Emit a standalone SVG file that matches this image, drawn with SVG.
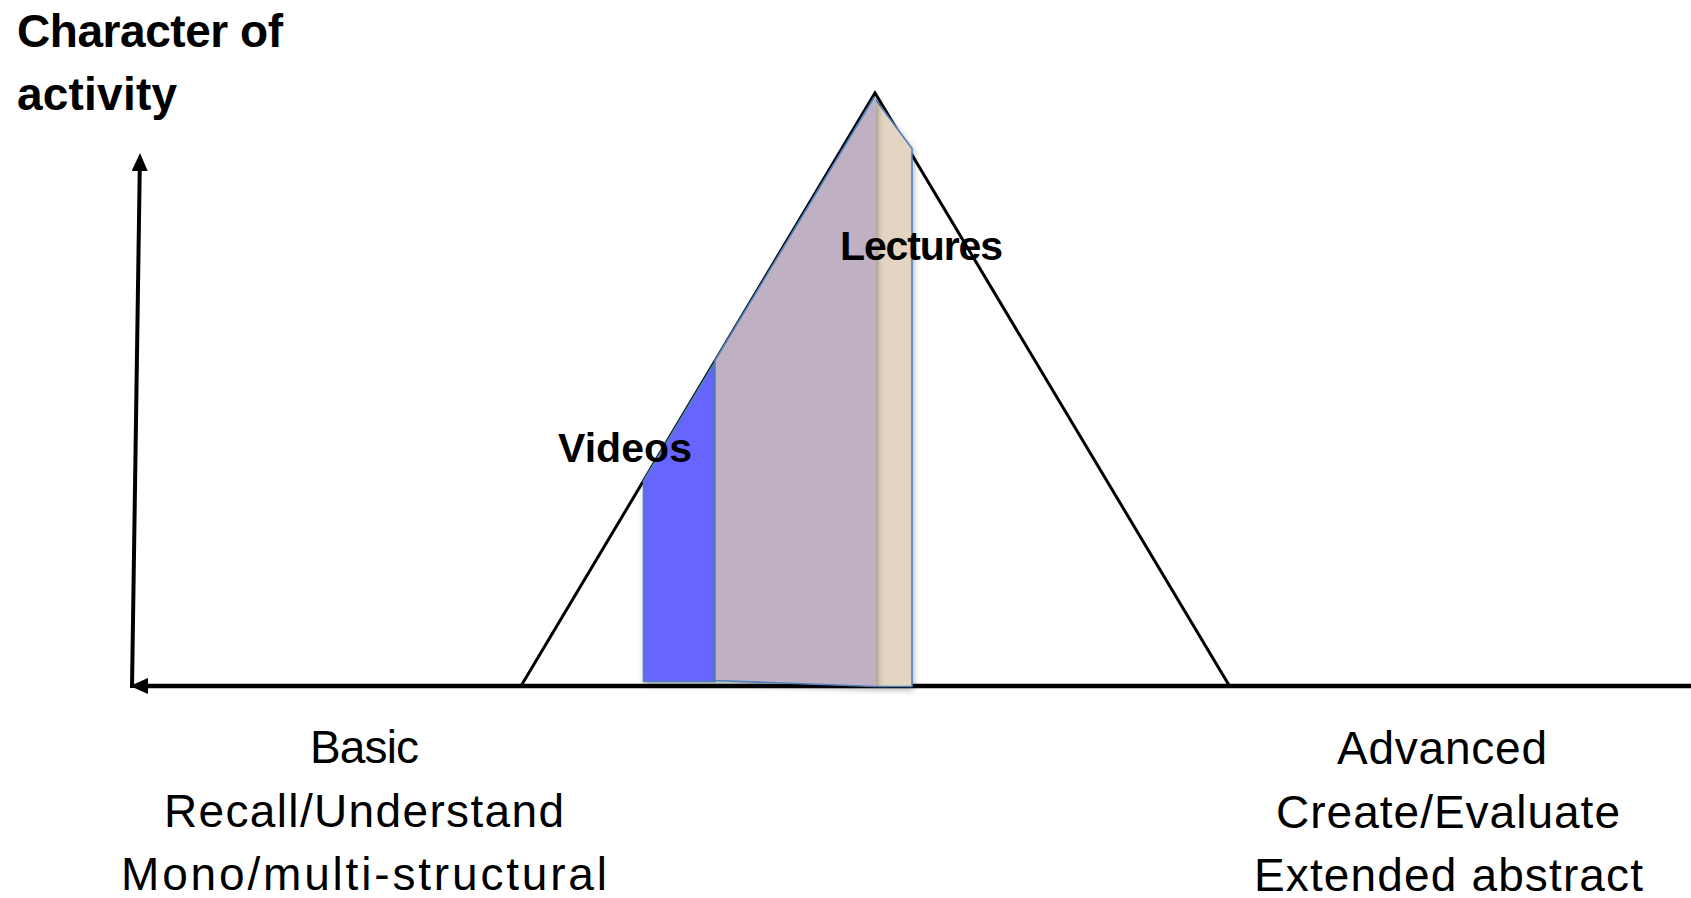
<svg xmlns="http://www.w3.org/2000/svg" width="1691" height="898" viewBox="0 0 1691 898">
  <style>
    .bold { font-family: "Liberation Sans", Arial, sans-serif; font-weight: bold; fill: #000; }
    .reg { font-family: "Liberation Sans", Arial, sans-serif; font-weight: normal; fill: #000; font-size: 46px; }
    .axis { stroke: #000; fill: none; }
    .edge { fill: none; stroke: #4F81BD; stroke-width: 1.6; stroke-linejoin: round; }
  </style>
  <defs>
    <marker id="ah" viewBox="0 0 18 16" refX="8" refY="8" markerWidth="18" markerHeight="16" markerUnits="userSpaceOnUse" orient="auto">
      <path d="M0,0 L18,8 L0,16 z" fill="#000"/>
    </marker>
    <filter id="shadow" x="-20%" y="-10%" width="140%" height="130%">
      <feDropShadow dx="1.5" dy="3" stdDeviation="3" flood-color="#000" flood-opacity="0.35"/>
    </filter>
  </defs>
  <rect width="1691" height="898" fill="#fff"/>

  <g id="title">
    <text class="bold" x="17" y="47" font-size="46" textLength="266">Character of</text>
    <text class="bold" x="17" y="110" font-size="46" textLength="160">activity</text>
  </g>

  <g id="triangle">
    <polygon points="521,686 875,93 1229.5,686" fill="none" stroke="#000" stroke-width="3" stroke-linejoin="miter"/>
  </g>

  <g id="connectors">
    <line class="axis" x1="1691" y1="686" x2="140" y2="686" stroke-width="4.5" marker-end="url(#ah)"/>
    <line class="axis" x1="132" y1="688" x2="139.85" y2="163" stroke-width="4" marker-end="url(#ah)"/>
  </g>

  <g id="videos">
    <polygon points="643.5,481 715.5,361 715.5,681.5 643.5,681.5" fill="#6666FF" filter="url(#shadow)"/>
    <polyline class="edge" points="715.5,361 643.5,481 643.5,681.5 715.5,681.5"/>
  </g>

  <g id="lectures-tip">
    <polygon points="874,97.5 912,148.5 912,686.5 876,686.5 876,97.5" fill="#E3D5C1" filter="url(#shadow)"/>
    <polyline class="edge" points="874,97.5 912,148.5 912,686.5 876,686.5"/>
  </g>

  <g id="lectures">
    <polygon points="715,360.5 874,97.5 876,97.5 876,686.5 715,680.5" fill="#BFB0C4" filter="url(#shadow)"/>
    <polyline class="edge" points="876,686.5 715,680.5 715,360.5 874,97.5"/>
  </g>

  <g id="labels">
    <text class="bold" x="840" y="260" font-size="41" textLength="163">Lectures</text>
    <text class="bold" x="558" y="462" font-size="41" textLength="134">Videos</text>
  </g>

  <g id="basic-label">
    <text class="reg" x="310" y="763" textLength="109">Basic</text>
    <text class="reg" x="164" y="827" textLength="400">Recall/Understand</text>
    <text class="reg" x="121" y="890" textLength="486">Mono/multi-structural</text>
  </g>

  <g id="advanced-label">
    <text class="reg" x="1337" y="764" textLength="210">Advanced</text>
    <text class="reg" x="1276" y="828" textLength="344">Create/Evaluate</text>
    <text class="reg" x="1254" y="891" textLength="389">Extended abstract</text>
  </g>
</svg>
